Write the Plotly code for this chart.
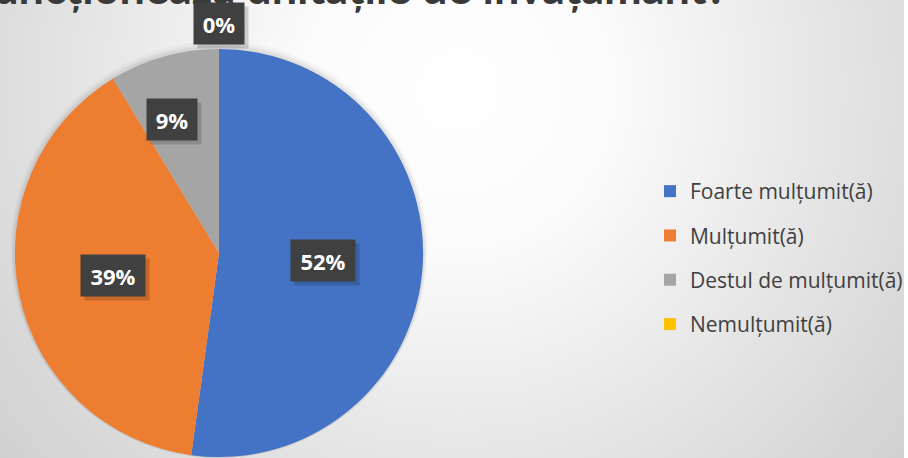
import math
import base64
import plotly.graph_objects as go

# ---- data ----
categories = ["Foarte mulțumit(ă)", "Mulțumit(ă)", "Destul de mulțumit(ă)", "Nemulțumit(ă)"]
counts = [12, 9, 2, 0]
colors = ["#4472C4", "#ED7D31", "#A5A5A5", "#FFC000"]
title_text = "funcționează unitățile de învățământ?"

# ---- layout constants ----
W, H = 908, 458
CX, CY, R = 220, 253, 205
label_r = [0.51, 0.53, 0.69, 1.12]     # label distance (fraction of radius)
label_dang = [0, 0, -4, 0]             # angular nudge in degrees

total = sum(counts)
pct = [c / total for c in counts]

fig = go.Figure()

# background radial gradient as svg data uri
bg_svg = (
    "<svg xmlns='http://www.w3.org/2000/svg' width='908' height='458'>"
    "<defs><radialGradient id='g' cx='460' cy='90' r='620' gradientUnits='userSpaceOnUse'>"
    "<stop offset='0' stop-color='#ffffff'/><stop offset='0.25' stop-color='#fbfbfb'/>"
    "<stop offset='1' stop-color='#cdcdcd'/></radialGradient></defs>"
    "<rect width='908' height='458' fill='url(#g)'/></svg>"
)
bg_uri = "data:image/svg+xml;base64," + base64.b64encode(bg_svg.encode()).decode()
fig.add_layout_image(dict(source=bg_uri, xref="paper", yref="paper",
                          x=0, y=1, sizex=1, sizey=1, sizing="stretch", layer="below",
                          xanchor="left", yanchor="top"))

# soft shadow layers
for dr, op in [(7, 0.025), (4, 0.035), (2, 0.045)]:
    d = dict(x=[(CX - R - dr) / W, (CX + R + dr) / W], y=[0, (H - CY + R + dr) / H])
    fig.add_trace(go.Pie(values=[1], marker=dict(colors=[f"rgba(0,0,0,{op})"]), textinfo="none",
                         hoverinfo="skip", showlegend=False, domain=d, sort=False))

fig.add_trace(go.Pie(
    labels=categories, values=counts, sort=False, direction="clockwise", rotation=0,
    marker=dict(colors=colors, line=dict(width=0)), textinfo="none", showlegend=False,
    domain=dict(x=[(CX - R) / W, (CX + R) / W], y=[0, (H - CY + R) / H]),
))

# legend via dummy traces
for cat, col in zip(categories, colors):
    fig.add_trace(go.Scatter(x=[None], y=[None], mode="markers", name=cat, legendgroup=cat,
                             marker=dict(symbol="square", size=12, color=col)))

# partially cut title (drawn first so label boxes sit on top)
fig.add_annotation(xref="paper", yref="paper", x=732 / W, y=1 - 16 / H, yanchor="bottom", xanchor="right",
                   text=f"<b>{title_text}</b>", showarrow=False,
                   font=dict(size=45, color="#3a3a3a", family="Lato"))

# data labels
cum = 0.0
for p, lr, da in zip(pct, label_r, label_dang):
    mid = (cum + p / 2) * 2 * math.pi + math.radians(da)
    cum += p
    px = CX + lr * R * math.sin(mid)
    py = CY - lr * R * math.cos(mid)
    txt = f"{round(p * 100)}%"
    w = 8 + 14 * len(txt)
    common = dict(xref="paper", yref="paper", x=px / W, y=1 - py / H, text=f"<b>{txt}</b>",
                  showarrow=False, width=w, height=27, borderpad=7, xanchor="center", yanchor="middle")
    fig.add_annotation(**common, bgcolor="rgba(0,0,0,0.16)", xshift=4, yshift=-4,
                       font=dict(color="rgba(0,0,0,0)", size=22, family="Open Sans"))
    fig.add_annotation(**common, bgcolor="#404040", font=dict(color="white", size=22, family="Open Sans"))

fig.update_layout(
    width=W, height=H, margin=dict(l=0, r=0, t=0, b=0),
    paper_bgcolor="rgba(0,0,0,0)", plot_bgcolor="rgba(0,0,0,0)",
    xaxis=dict(visible=False), yaxis=dict(visible=False),
    legend=dict(x=0.719, y=1 - 258 / H, xanchor="left", yanchor="middle", tracegroupgap=14,
                font=dict(size=21, color="#404040", family="Open Sans"), bgcolor="rgba(0,0,0,0)",
                itemwidth=30),
    showlegend=True,
)

fig.write_html("out.html", config={"displayModeBar": False},
               post_script="document.body.style.margin='0';document.body.style.overflow='hidden';")
